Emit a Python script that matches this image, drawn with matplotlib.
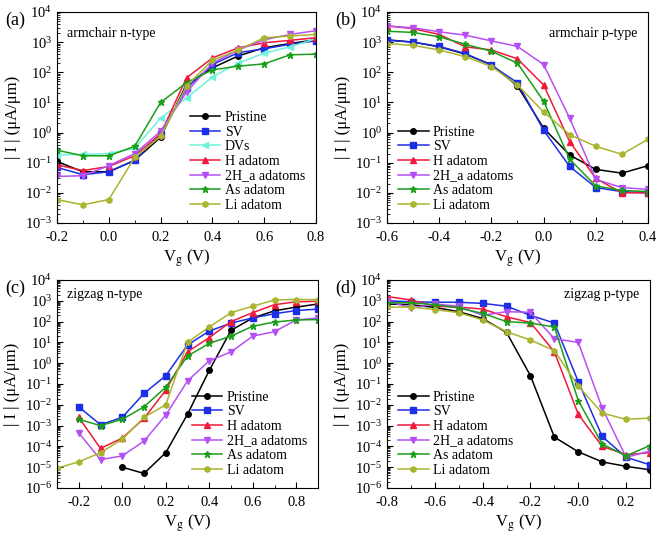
import numpy as np
import matplotlib
matplotlib.use('Agg')
import matplotlib.pyplot as plt
from matplotlib.ticker import LogLocator, MultipleLocator, NullFormatter

plt.rcParams['font.family'] = ['Liberation Serif', 'DejaVu Serif']
plt.rcParams['mathtext.fontset'] = 'stix'

names = ['Pristine', 'SV', 'DVs', 'H adatom', '2H_a adatoms', 'As adatom', 'Li adatom']
colors = {'Pristine': '#000000', 'SV': '#1c2fe6', 'DVs': '#6ff2dc', 'H adatom': '#f0193a',
          '2H_a adatoms': '#b650f5', 'As adatom': '#1a9e1a', 'Li adatom': '#a9b52e'}
markers = {'Pristine': 'o', 'SV': 's', 'DVs': '<', 'H adatom': '^',
           '2H_a adatoms': 'v', 'As adatom': '*', 'Li adatom': 'h'}

# (a) armchair n-type
vg_a = [-0.2, -0.1, 0.0, 0.1, 0.2, 0.3, 0.4, 0.5, 0.6, 0.7, 0.8]
a_pristine = [0.11, 0.05, 0.05, 0.12, 0.7, 40, 140, 350, 650, 900, 1200]
a_sv = [0.07, 0.04, 0.05, 0.12, 0.9, 30, 180, 450, 600, 850, 1100]
a_dvs = [0.18, 0.19, 0.2, 0.3, 3, 14, 70, 200, 430, 700, 1300]
a_h = [0.085, 0.055, 0.075, 0.17, 0.9, 65, 300, 650, 950, 1150, 1400]
a_2h = [0.035, 0.037, 0.08, 0.2, 1.1, 22, 200, 550, 1200, 1800, 2400]
a_as = [0.26, 0.17, 0.17, 0.35, 10, 45, 120, 160, 190, 380, 400]
a_li = [0.006, 0.004, 0.006, 0.15, 0.75, 35, 250, 550, 1400, 1600, 1800]

# (b) armchair p-type
vg_b = [-0.6, -0.5, -0.4, -0.3, -0.2, -0.1, 0.0, 0.1, 0.2, 0.3, 0.4]
b_pristine = [1200, 1000, 700, 400, 180, 35, 1.4, 0.18, 0.06, 0.045, 0.08]
b_sv = [1150, 1000, 720, 420, 170, 45, 1.2, 0.075, 0.015, 0.011, 0.01]
b_h = [3500, 2800, 1800, 700, 550, 280, 38, 0.5, 0.03, 0.01, 0.01]
b_2h = [3400, 3000, 2200, 1700, 1100, 720, 180, 3, 0.028, 0.015, 0.013]
b_as = [2300, 2100, 1500, 850, 500, 200, 11, 0.13, 0.017, 0.012, 0.011]
b_li = [900, 780, 550, 330, 155, 38, 4.8, 0.85, 0.35, 0.19, 0.6]

# (c) zigzag n-type
vg_c = [-0.3, -0.2, -0.1, 0.0, 0.1, 0.2, 0.3, 0.4, 0.5, 0.6, 0.7, 0.8, 0.9]
c_pristine = [None, None, None, 1e-5, 5e-6, 5e-5, 3.5e-3, 0.45, 38, 150, 330, 500, 700]
c_sv = [None, 8e-3, 1.1e-3, 2.5e-3, 0.035, 0.25, 7.5, 35, 85, 150, 240, 340, 400]
c_h = [None, 2.5e-3, 8e-5, 2.5e-4, 2.2e-3, 0.05, 3.5, 17, 100, 270, 650, 900, 950]
c_2h = [None, 4.5e-4, 2.3e-5, 3.5e-5, 1.8e-4, 3.2e-3, 0.14, 1.3, 3.5, 20, 33, 120, 150]
c_as = [None, 2e-3, 1e-3, 2e-3, 8e-3, 0.07, 2.2, 9, 20, 60, 95, 120, 125]
c_li = [9e-6, 1.8e-5, 5e-5, 2.2e-4, 2.5e-3, 0.01, 10, 55, 270, 550, 1100, 1150, 1150]

# (d) zigzag p-type
vg_d = [-0.8, -0.7, -0.6, -0.5, -0.4, -0.3, -0.2, -0.1, 0.0, 0.1, 0.2, 0.3]
d_pristine = [700, 650, 480, 300, 140, 30, 0.25, 2.8e-4, 5.5e-5, 1.8e-5, 1.1e-5, 7.5e-6]
d_sv = [1000, 900, 850, 850, 750, 550, 200, 85, 0.13, 3e-4, 3e-5, 1.3e-5]
d_h = [1600, 1100, 550, 500, 400, 170, 90, 3.5, 3.5e-3, 1e-4, 4e-5, 5e-5]
d_2h = [1000, 450, 700, 550, 200, 300, 280, 15, 10, 7e-3, 3e-5, 6e-5]
d_as = [800, 800, 650, 450, 250, 100, 85, 55, 0.016, 1.3e-4, 3.5e-5, 1.1e-4]
d_li = [500, 500, 380, 270, 120, 33, 13, 4, 0.08, 4e-3, 2e-3, 2.3e-3]

panels = [
    ('(a)', 'armchair n-type', vg_a,
     [('Pristine', a_pristine), ('SV', a_sv), ('DVs', a_dvs), ('H adatom', a_h),
      ('2H_a adatoms', a_2h), ('As adatom', a_as), ('Li adatom', a_li)]),
    ('(b)', 'armchair p-type', vg_b,
     [('Pristine', b_pristine), ('SV', b_sv), ('H adatom', b_h),
      ('2H_a adatoms', b_2h), ('As adatom', b_as), ('Li adatom', b_li)]),
    ('(c)', 'zigzag n-type', vg_c,
     [('Pristine', c_pristine), ('SV', c_sv), ('H adatom', c_h),
      ('2H_a adatoms', c_2h), ('As adatom', c_as), ('Li adatom', c_li)]),
    ('(d)', 'zigzag p-type', vg_d,
     [('Pristine', d_pristine), ('SV', d_sv), ('H adatom', d_h),
      ('2H_a adatoms', d_2h), ('As adatom', d_as), ('Li adatom', d_li)]),
]

W, H = 661, 536
# axes boxes in pixels: left, top, right, bottom
boxes = [(57, 12, 316, 223), (387, 12, 648, 223), (57, 280, 318, 488), (387, 280, 650, 488)]
xlims = [(-0.2, 0.8), (-0.6, 0.4), (-0.3, 0.9), (-0.8, 0.3)]
ylims = [(1e-3, 1e4), (1e-3, 1e4), (1e-6, 1e4), (1e-6, 1e4)]
xticks = [np.arange(-0.2, 0.81, 0.2), np.arange(-0.6, 0.41, 0.2),
          np.arange(-0.2, 0.81, 0.2), np.arange(-0.8, 0.21, 0.2)]
text_pos = [(0.04, 0.9, 'left'), (0.96, 0.9, 'right'), (0.04, 0.93, 'left'), (0.96, 0.93, 'right')]
leg_pos = [('lower right', (1.0, 0.0)), ('lower left', (0.0, 0.0)),
           ('lower right', (1.0, 0.0)), ('lower left', (0.0, 0.0))]

fig = plt.figure(figsize=(W / 100, H / 100), dpi=100)

for i, (lab, title, vg, series) in enumerate(panels):
    l, t, r, b = boxes[i]
    ax = fig.add_axes([l / W, 1 - b / H, (r - l) / W, (b - t) / H])
    for name, vals in series:
        y = np.array([np.nan if v is None else v for v in vals], dtype=float)
        ax.plot(vg, y, color=colors[name], marker=markers[name], ms=4 if markers[name] != '*' else 5,
                lw=1.1, label=name)
    ax.set_yscale('log')
    ax.set_xlim(*xlims[i])
    ax.set_ylim(*ylims[i])
    ax.set_xticks(xticks[i])
    ax.set_xticklabels([f'{v:.1f}' for v in xticks[i]])
    ax.xaxis.set_minor_locator(MultipleLocator(0.1))
    ax.yaxis.set_major_locator(LogLocator(base=10, numticks=20))
    ax.yaxis.set_minor_locator(LogLocator(base=10, subs=np.arange(2, 10), numticks=20))
    ax.yaxis.set_minor_formatter(NullFormatter())
    ax.tick_params(which='both', direction='in', labelsize=10.5)
    ax.tick_params(axis='x', pad=6)
    ax.tick_params(which='major', length=4)
    ax.tick_params(which='minor', length=2)
    ax.set_xlabel('V$_\\mathrm{g}$ (V)', fontsize=12, labelpad=2)
    ax.set_ylabel('| I | (μA/μm)', fontsize=12, labelpad=3)
    tx, ty, ha = text_pos[i]
    ax.text(tx, ty, title, transform=ax.transAxes, ha=ha, va='center', fontsize=10)
    loc, anchor = leg_pos[i]
    ax.legend(loc=loc, bbox_to_anchor=anchor, frameon=False, fontsize=10,
              labelspacing=0.12, handlelength=2.2, handletextpad=0.3, borderaxespad=0.4)
    fig.text((l - 52) / W, 1 - (t + 8) / H, lab, fontsize=13, ha='left', va='center')

fig.savefig('out.png', dpi=100)
